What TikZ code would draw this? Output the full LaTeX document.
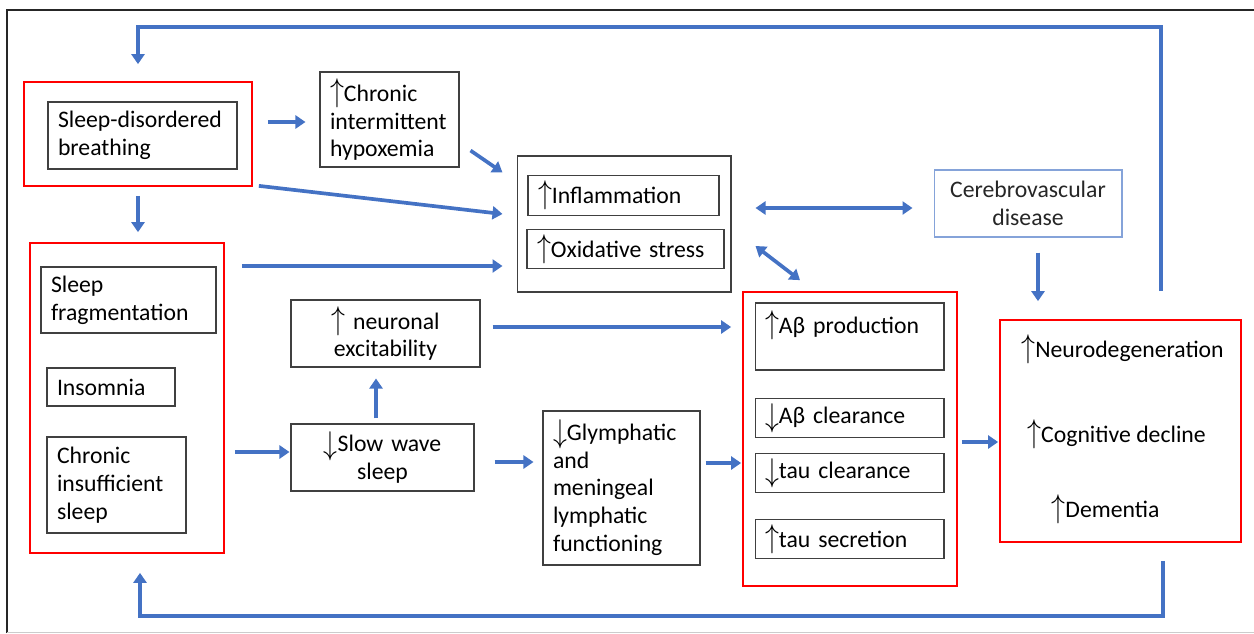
\documentclass[tikz,border=0pt]{standalone}
\usepackage{fontspec}
\setmainfont{Carlito}
\usepackage{graphicx}
\usepackage{tikz}
\usetikzlibrary{arrows.meta, positioning, calc}
\definecolor{arrowblue}{RGB}{68,114,196}
\newcommand{\incr}{\scalebox{1.1}[1.3]{$\uparrow$}}
\newcommand{\decr}{\raisebox{-0.12em}{\scalebox{1.1}[1.3]{$\downarrow$}}}
\tikzstyle{redbox} = [rectangle, draw=red, line width=1pt]
\tikzstyle{txtbox} = [rectangle, draw=black!75, line width=0.6pt, inner xsep=0.2cm, inner ysep=0.1cm]
\tikzstyle{arrow} = [line width=2.1pt, draw=arrowblue, -{Triangle[length=0.2cm,width=0.26cm]}]
\tikzstyle{twoway} = [line width=2.1pt, draw=arrowblue, {Triangle[length=0.2cm,width=0.26cm]}-{Triangle[length=0.2cm,width=0.26cm]}]

\begin{document}
\begin{tikzpicture}[x=0.02cm, y=-0.02cm, font=\fontsize{13.5}{15.9}\selectfont]
    \useasboundingbox (0,0) rectangle (1254,633);
    % Frame
    \draw [black!85, line width=0.8pt] (7,633) -- (7,10) -- (1254,10);
    \draw [black!20, line width=0.5pt] (7,632) -- (1254,632);
    \coordinate (topline) at (0,27);
    \coordinate (botline) at (0,616);

    % Sleep-disordered breathing
    \node (sdbred) [redbox, minimum width=4.56cm, minimum height=2.08cm] at (138,134) {};
    \node (sdb) [txtbox, minimum height=1.34cm, text width=3.38cm, align=left] at (142.5,135.5) {Sleep-disordered\\breathing};
    \node (hyp) [txtbox, minimum height=1.9cm, text width=2.38cm, align=left] at (389.5,119.5) {\incr Chronic\\intermittent\\hypoxemia};

    % Inflammation / oxidative stress
    \node (infl) [txtbox, minimum width=4.28cm, minimum height=2.72cm] at (624,224) {};
    \node (inf) [txtbox, minimum height=0.74cm, text width=3.42cm, align=left] at (623.5,195.5) {\incr Inflammation};
    \node (oxs) [txtbox, minimum height=0.76cm, text width=3.54cm, align=left] at (625.5,249) {\incr Oxidative stress};

    % Cerebrovascular disease
    \node (cvd) [rectangle, draw=arrowblue!65, line width=0.6pt, minimum height=1.34cm, text width=3.36cm, inner xsep=0.2cm, align=center, text=black!85] at (1028,203.5) {Cerebrovascular\\disease};

    % Sleep disturbances
    \node (sleepred) [redbox, minimum width=3.88cm, minimum height=6.2cm] at (127,398) {};
    \node (sfr) [txtbox, minimum height=1.32cm, text width=3.1cm, align=left] at (128.5,300) {Sleep\\fragmentation};
    \node (ins) [txtbox, minimum height=0.76cm, text width=2.16cm, align=left] at (111,387) {Insomnia};
    \node (cis) [txtbox, minimum height=1.92cm, text width=2.38cm, align=left] at (116.5,485) {Chronic\\insufficient\\sleep};

    % Slow wave sleep and consequences
    \node (neur) [txtbox, minimum height=1.34cm, text width=3.38cm, align=center] at (385.5,333.5) {\incr{} neuronal\\excitability};
    \node (sws) [txtbox, minimum height=1.34cm, text width=3.26cm, align=center] at (382.5,457.5) {\decr Slow wave\\sleep};
    \node (glym) [txtbox, minimum height=3.08cm, text width=2.74cm, align=left] at (621.5,488) {\decr Glymphatic\\and\\meningeal\\lymphatic\\functioning};

    % Amyloid and tau
    \node (amyred) [redbox, minimum width=4.28cm, minimum height=5.88cm] at (850,439) {};
    \node (abp) [txtbox, minimum height=1.34cm, text width=3.38cm, align=left] at (849.5,336.5) {\incr Aβ production\\\mbox{}};
    \node (abc) [txtbox, minimum height=0.76cm, text width=3.38cm, align=left] at (849.5,418) {\decr Aβ clearance};
    \node (tcl) [txtbox, minimum height=0.76cm, text width=3.38cm, align=left] at (849.5,473) {\decr tau clearance};
    \node (tse) [txtbox, minimum height=0.76cm, text width=3.38cm, align=left] at (849.5,539) {\incr tau secretion};

    % Outcomes
    \node (outred) [redbox, minimum width=4.82cm, minimum height=4.44cm] at (1120.5,431) {};
    \node (ndg) at (1122.5,349) {\incr Neurodegeneration};
    \node (cog) at (1116.5,434) {\incr Cognitive decline};
    \node (dem) at (1105.5,509) {\incr Dementia};

    % Connector ends
    \coordinate (cvdout) at ($(cvd.south)+(10,0)$);
    \coordinate (toploop) at ($(outred.north)+(40.5,-28)$);
    \coordinate (botloop) at ($(outred.south)+(42.5,18)$);
    \coordinate (sleepin) at ($(sleepred.south)+(13,0)$);

    % Connections
    \draw [arrow, shorten <=0.3cm, shorten >=0.28cm] (sdbred.east |- 0,122) -- (hyp.west |- 0,122);
    \draw [arrow] ($(hyp.south east)+(11,-17)$) -- ($(infl.north west)+(-14,17)$);
    \draw [arrow] ($(sdbred.south east)+(6,-1)$) -- ($(infl.west)+(-14,-10)$);
    \draw [arrow, shorten <=0.18cm, shorten >=0.2cm] (sdbred.south) -- (sdbred.south |- sleepred.north);
    \draw [arrow, shorten <=0.34cm, shorten >=0.28cm] (sleepred.east |- 0,266) -- (infl.west |- 0,266);
    \draw [arrow, shorten <=0.2cm, shorten >=0.02cm] (sleepred.east |- 0,452) -- (sws.west |- 0,452);
    \draw [arrow, shorten <=0.1cm, shorten >=0.22cm] (sws.north -| 376,0) -- (neur.south -| 376,0);
    \draw [arrow, shorten <=0.24cm, shorten >=0.22cm] (neur.east |- 0,327) -- (amyred.west |- 0,327);
    \draw [arrow, shorten <=0.4cm, shorten >=0.18cm] (sws.east |- 0,462) -- (glym.west |- 0,462);
    \draw [arrow, shorten <=0.1cm, shorten >=0.02cm] (glym.east |- 0,463) -- (amyred.west |- 0,463);
    \draw [twoway, shorten <=0.48cm, shorten >=0.42cm] (infl.east |- 0,208) -- (cvd.west |- 0,208);
    \draw [twoway] ($(infl.east)+(24,22)$) -- ($(amyred.north)+(-50,-11)$);
    \draw [arrow, shorten <=0.3cm, shorten >=0.36cm] (cvdout) -- (cvdout |- outred.north);
    \draw [arrow, shorten <=0.08cm, shorten >=0.02cm] (amyred.east |- 0,442) -- (outred.west |- 0,442);
    \draw [arrow, shorten >=0.34cm] (toploop) |- (sdbred.north |- topline) -- (sdbred.north);
    \draw [arrow, shorten >=0.38cm] (botloop) |- (sleepin |- botline) -- (sleepin);
\end{tikzpicture}
\end{document}
